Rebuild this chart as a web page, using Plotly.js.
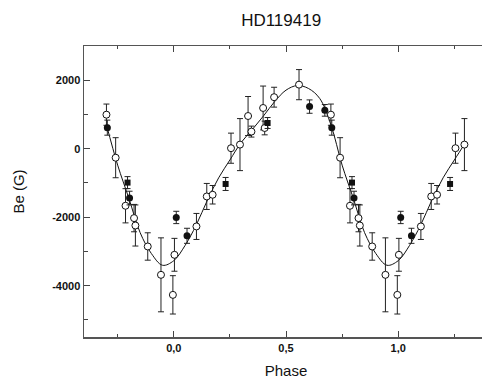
<!DOCTYPE html>
<html><head><meta charset="utf-8">
<script src="https://cdn.plot.ly/plotly-3.0.1.min.js"></script>
<style>html,body{margin:0;padding:0;overflow:hidden;background:#fff}</style>
</head><body>
<div id="chart" style="width:488px;height:379px"></div>
<script>
// Open circles: phase (0..1), Be (G), error (G)
const openPhase = [0.003, 0.101, 0.147, 0.173, 0.255, 0.295, 0.331, 0.346, 0.398, 0.405, 0.447, 0.558, 0.700, 0.741, 0.785, 0.823, 0.829, 0.884, 0.943, 0.996];
const openBe    = [-3099, -2271, -1395, -1345, 15, 120, 955, 500, 1190, 605, 1505, 1871, 994, -263, -1667, -2027, -2243, -2856, -3684, -4269];
const openErr   = [480, 380, 380, 270, 440, 760, 570, 160, 640, 200, 290, 440, 310, 585, 500, 400, 600, 400, 1080, 560];
// Filled circles
const filledPhase = [0.011, 0.059, 0.605, 0.673, 0.704, 0.803];
const filledBe    = [-2008, -2544, 1230, 1120, 615, -1442];
const filledErr   = [180, 220, 195, 170, 220, 200];
// Filled squares
const sqPhase = [0.231, 0.418, 0.794];
const sqBe    = [-1030, 751, -990];
const sqErr   = [190, 160, 175];
// Fitted curve, read over one period
const curvePhase = [0.00, 0.05, 0.10, 0.15, 0.20, 0.25, 0.30, 0.35, 0.40, 0.45, 0.50, 0.55, 0.60, 0.65, 0.70, 0.75, 0.80, 0.85, 0.90, 0.95];
const curveBe    = [-3270, -2830, -2230, -1500, -850, -330, 180, 560, 960, 1380, 1710, 1845, 1760, 1470, 700, -480, -1450, -2450, -3060, -3405];
// Axis ticks
const xTickVals = [0, 0.5, 1];
const xTickText = ['0,0', '0,5', '1,0'];
const xMinorVals = [-0.25, 0.25, 0.75, 1.25];
const yTickVals = [-4000, -2000, 0, 2000];
const yTickText = ['-4000', '-2000', '0', '2000'];
const yMinorVals = [-5000, -3000, -1000, 1000];

const LO = -0.305, HI = 1.305;
function tile(ph, vals, errs) {
  const pts = [];
  for (const s of [-1, 0, 1]) {
    ph.forEach((p, i) => {
      const x = p + s;
      if (x >= LO && x <= HI) pts.push([x, vals[i], errs ? errs[i] : 0]);
    });
  }
  pts.sort((a, b) => a[0] - b[0]);
  return {x: pts.map(p => p[0]), y: pts.map(p => p[1]), e: pts.map(p => p[2])};
}

const c = tile(curvePhase, curveBe);
const o = tile(openPhase, openBe, openErr);
const f = tile(filledPhase, filledBe, filledErr);
const q = tile(sqPhase, sqBe, sqErr);

const errStyle = arr => ({type: 'data', array: arr, visible: true, color: '#222', thickness: 1, width: 3});
const FONT = 'Liberation Sans, Arial, Helvetica, sans-serif';

const traces = [
  {x: c.x, y: c.y, mode: 'lines', line: {color: '#111', width: 1, shape: 'spline', smoothing: 1}, hoverinfo: 'skip'},
  {x: o.x, y: o.y, mode: 'markers', error_y: errStyle(o.e),
   marker: {symbol: 'circle', size: 7, color: '#fff', line: {color: '#111', width: 1}}},
  {x: f.x, y: f.y, mode: 'markers', error_y: errStyle(f.e),
   marker: {symbol: 'circle', size: 7, color: '#111', line: {color: '#111', width: 0}}},
  {x: q.x, y: q.y, mode: 'markers', error_y: errStyle(q.e),
   marker: {symbol: 'square', size: 6, color: '#111', line: {color: '#111', width: 0}}}
];

const axisCommon = {
  showline: true, linecolor: '#555', linewidth: 1.5, mirror: 'ticks',
  ticks: 'inside', ticklen: 6, tickwidth: 1, tickcolor: '#444',
  showgrid: false, zeroline: false,
  tickfont: {family: FONT, size: 11, color: '#111', weight: 'bold'}
};

const layout = {
  width: 488, height: 379,
  margin: {l: 84, r: 0, t: 46, b: 42},
  paper_bgcolor: '#fff', plot_bgcolor: '#fff',
  showlegend: false,
  title: {text: 'HD119419', font: {family: FONT, size: 17, color: '#111'},
          x: 0.488, xref: 'paper', xanchor: 'center', y: 1 - 20/379, yref: 'container', yanchor: 'middle'},
  xaxis: Object.assign({}, axisCommon, {
    range: [-0.4, 1.4], tickmode: 'array', tickvals: xTickVals, ticktext: xTickText,
    minor: {tickmode: 'array', tickvals: xMinorVals, ticks: 'inside', ticklen: 3, tickwidth: 1, tickcolor: '#444'},
    title: {text: 'Phase', font: {family: FONT, size: 15, color: '#111'}, standoff: 14}
  }),
  yaxis: Object.assign({}, axisCommon, {
    range: [-5500, 3000], tickmode: 'array', tickvals: yTickVals, ticktext: yTickText,
    minor: {tickmode: 'array', tickvals: yMinorVals, ticks: 'inside', ticklen: 4, tickwidth: 1, tickcolor: '#444'},
    title: {text: 'Be (G)', font: {family: FONT, size: 15, color: '#111'}, standoff: 24}
  })
};

Plotly.newPlot('chart', traces, layout, {displayModeBar: false, staticPlot: true});
</script>
</body></html>
